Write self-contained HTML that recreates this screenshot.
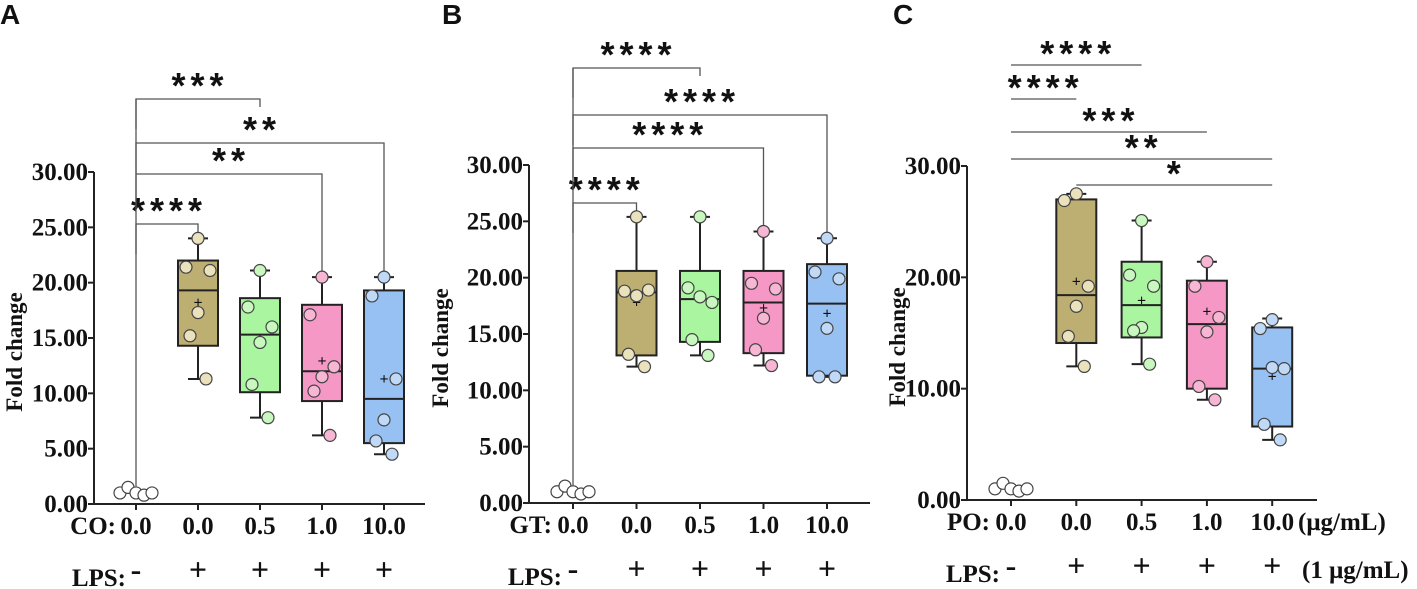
<!DOCTYPE html>
<html><head><meta charset="utf-8"><style>
body{margin:0;background:#fff;}
svg{display:block;}
text{font-family:"Liberation Serif",serif;font-weight:bold;fill:#111;}
.lt{font-family:"Liberation Sans",sans-serif;font-weight:bold;}
.st{font-family:"Liberation Sans",sans-serif;font-weight:bold;letter-spacing:5px;}
</style></head><body>
<svg id="chart" width="1417" height="589" viewBox="0 0 1417 589" xmlns="http://www.w3.org/2000/svg"></svg>
<script>
const categories=["0.0","0.0","0.5","1.0","10.0"];
const lpsLabels=["-","+","+","+","+"];
const yTicks=[0,5,10,15,20,25,30];
const yTicksC=[0,10,20,30];
const controlPts=[1.0,1.5,1.0,0.8,1.0];
// panel A
const aPts=[[24,21.4,21.1,17.3,15.2,11.3],[21.1,17.8,16.0,14.6,10.8,7.8],[20.5,17.1,12.4,11.5,10.2,6.2],[20.5,18.8,11.3,7.6,5.7,4.5]];
const aBox=[[11.3,14.3,19.3,22,24],[7.8,10.1,15.3,18.6,21.1],[6.2,9.3,12.0,18.0,20.5],[4.5,5.5,9.5,19.3,20.5]];
const aMean=[18.3,15.0,13.0,11.4];
// panel B
const bPts=[[25.4,18.8,18.9,18.4,13.2,12.1],[25.4,19.1,17.8,18.3,14.5,13.1],[24.1,19.5,19.0,16.4,13.6,12.2],[23.5,20.5,19.9,15.5,11.2,11.2]];
const bBox=[[12.1,13.1,18.7,20.6,25.4],[13.1,14.3,18.1,20.6,25.4],[12.2,13.3,17.8,20.6,24.1],[11.2,11.3,17.7,21.2,23.5]];
const bMean=[17.9,18.1,17.4,16.9];
// panel C
const cPts=[[27.5,26.9,19.2,17.4,14.7,12.0],[25.1,20.2,19.2,15.5,15.2,12.2],[21.4,19.2,16.4,15.1,10.2,9.0],[16.2,15.4,11.8,11.9,6.8,5.4]];
const cBox=[[12.0,14.1,18.4,27.0,27.5],[12.2,14.6,17.5,21.4,25.1],[9.0,10.0,15.8,19.7,21.4],[5.4,6.6,11.8,15.5,16.3]];
const cMean=[19.7,18.0,17.0,11.2];
const sigA=[["***",2,99],["**",4,143],["**",3,174],["****",1,224]];
const sigB=[["****",2,68],["****",4,115],["****",3,148],["****",1,203]];
const sigC=[["****",0,1,2,65],["****",0,1,1,99],["***",0,1,3,132],["**",0,1,4,159],["*",0,2,4,185]];

const fills=["#bdae72","#a9f5a0","#f598c5","#98c1f3"];
const dotFill=["#e9e2bd","#c9f7c0","#f7b6d4","#c0d9f7"];
const jit=[0,-12,12,0,-8,8];
const svg=document.getElementById('chart');
const NS="http://www.w3.org/2000/svg";
function el(tag,attrs,parent){const e=document.createElementNS(NS,tag);for(const k in attrs)e.setAttribute(k,attrs[k]);(parent||svg).appendChild(e);return e;}
function txt(s,x,y,size,anchor,parent){const t=el('text',{x:x,y:y,'font-size':size,'text-anchor':anchor||'middle'},parent);t.textContent=s;return t;}

function panel(cfg){
  const g=el('g',{});
  
  
  const Y=v=>cfg.y0-(v/30)*(cfg.y0-cfg.y30);
  const X=i=>cfg.cx0+i*cfg.dx;
  const ax=el('g',{},g);
  
  
  el('line',{x1:cfg.ox,y1:Y(30),x2:cfg.ox,y2:cfg.y0,stroke:'#222','stroke-width':2},ax);
  cfg.ticks.forEach(v=>{el('line',{x1:cfg.ox-6,y1:Y(v),x2:cfg.ox,y2:Y(v),stroke:'#222','stroke-width':2},ax);
    const t=txt(v.toFixed(2),cfg.ox-6,Y(v)+8,25,'end',ax);});
  const xa=el('g',{},g);
  
  
  el('line',{x1:cfg.ox,y1:cfg.y0,x2:cfg.xend,y2:cfg.y0,stroke:'#222','stroke-width':2},xa);
  categories.forEach((c,i)=>{el('line',{x1:X(i),y1:cfg.y0,x2:X(i),y2:cfg.y0+6,stroke:'#222','stroke-width':2},xa);
    const t=txt(c,X(i),cfg.y0+30,25,'middle',xa);
    const l=txt(lpsLabels[i],X(i),cfg.y0+76,32,'middle',xa);});
  const tl=txt(cfg.treat,cfg.treatX,cfg.y0+30,25,'end',xa);
  const lp=txt("LPS:",cfg.treatX+10,cfg.y0+82,25,'end',xa);
  const yt=txt("Fold change",0,0,23,'middle',g);
  yt.setAttribute('transform',`translate(${cfg.ytx},${(Y(0)+Y(30))/2+14}) rotate(-90)`);
  
  
  cfg.sig.forEach(s=>{
    const b=el('g',{},g);
    
    
    if(cfg.bar){
      const [lab,i1,j1,j2,y]=s;
      el('line',{x1:X(j1-1),y1:y,x2:X(j2),y2:y,stroke:'#555','stroke-width':1.3},b);
      txt(lab,(X(j1-1)+X(j2))/2+2,y+1,36,'middle',b).setAttribute('class','st');
    } else {
      const [lab,j,y]=s;
      const top=cfg.boxes[j-1][4];
      el('polyline',{points:`${X(0)},${y+30} ${X(0)},${y} ${X(j)},${y} ${X(j)},${j===2?y+8:Y(top)-6}`,fill:'none',stroke:'#555','stroke-width':1.3},b);
      txt(lab,(X(0)+X(j))/2+2,y-1,36,'middle',b).setAttribute('class','st');
    }
  });
  if(!cfg.bar) el('line',{x1:X(0),y1:cfg.sig[0][2],x2:X(0),y2:Y(1.6),stroke:'#555','stroke-width':1.3},g);
  controlPts.forEach((v,k)=>{const d=el('circle',{cx:X(0)-16+k*8,cy:Y(v),r:6,fill:'#fff',stroke:'#444','stroke-width':1.2},g);
    });
  cfg.boxes.forEach((b,i)=>{
    const x=X(i+1),w=20;
    const bg=el('g',{},g);
    
    
    el('line',{x1:x,y1:Y(b[0]),x2:x,y2:Y(b[4]),stroke:'#222','stroke-width':2},bg);
    el('line',{x1:x-10,y1:Y(b[0]),x2:x+10,y2:Y(b[0]),stroke:'#222','stroke-width':2},bg);
    el('line',{x1:x-10,y1:Y(b[4]),x2:x+10,y2:Y(b[4]),stroke:'#222','stroke-width':2},bg);
    el('rect',{x:x-w,y:Y(b[3]),width:2*w,height:Y(b[1])-Y(b[3]),fill:fills[i],stroke:'#222','stroke-width':2},bg);
    el('line',{x1:x-w,y1:Y(b[2]),x2:x+w,y2:Y(b[2]),stroke:'#222','stroke-width':2},bg);
    txt('+',x,Y(cfg.means[i])+6,16,'middle',bg);
    cfg.pts[i].forEach((v,k)=>{const d=el('circle',{cx:x+jit[k],cy:Y(v),r:6,fill:dotFill[i],stroke:'#444','stroke-width':1.2},bg);
      });
  });
  const pl=txt(cfg.letter,cfg.lx,24,28,'start',g);pl.setAttribute('class','lt');
  
}
panel({name:'panel-a',letter:'A',lx:0,ox:94,y30:172,y0:504,cx0:136,dx:62,xend:425,ticks:yTicks,treat:'CO:',treatX:116,ytx:22,boxes:aBox,pts:aPts,means:aMean,sig:sigA});
panel({name:'panel-b',letter:'B',lx:442,ox:529,y30:165,y0:503,cx0:573,dx:63.5,xend:870,ticks:yTicks,treat:'GT:',treatX:552,ytx:448,boxes:bBox,pts:bPts,means:bMean,sig:sigB});
panel({name:'panel-c',letter:'C',lx:893,ox:967,y30:166,y0:500,cx0:1011,dx:65.3,xend:1317,ticks:yTicksC,treat:'PO:',treatX:990,ytx:905,boxes:cBox,pts:cPts,means:cMean,sig:sigC,bar:true});
const u1=txt('(μg/mL)',1298,530,25,'start');
const u2=txt('(1 μg/mL)',1302,578,25,'start');
</script>
</body></html>
